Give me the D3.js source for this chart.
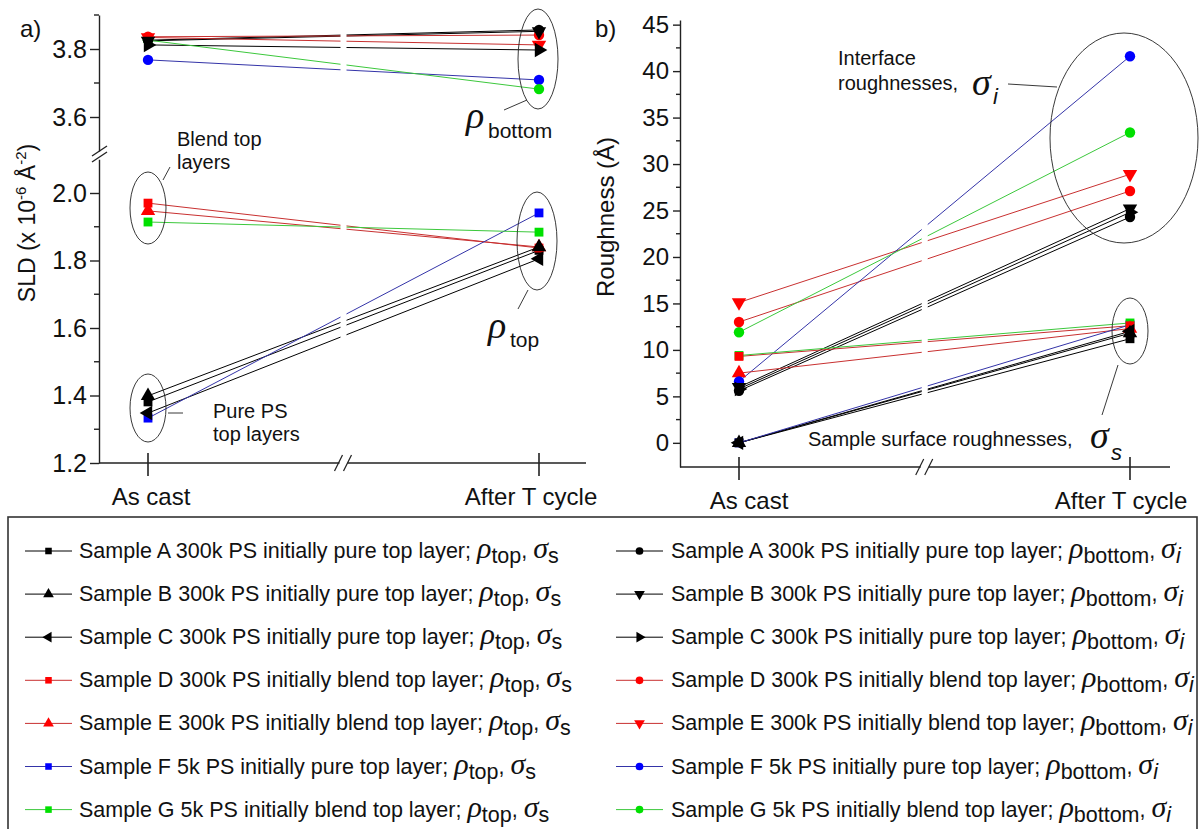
<!DOCTYPE html>
<html>
<head>
<meta charset="utf-8">
<script src="https://cdn.jsdelivr.net/npm/d3@7"></script>
<style>
  body { margin: 0; background: #fff; }
  svg { display: block; }
  text { font-family: Arial, "Liberation Sans", sans-serif; fill: #111; }
  .greek { font-family: "Liberation Serif", "DejaVu Serif", serif; font-style: italic; }
</style>
</head>
<body>
<svg id="chart" width="1200" height="829"></svg>
<script>
// ---- data ----
const stages = ["As cast", "After T cycle"];
const sampleNames = [
  "Sample A 300k PS initially pure top layer",
  "Sample B 300k PS initially pure top layer",
  "Sample C 300k PS initially pure top layer",
  "Sample D 300k PS initially blend top layer",
  "Sample E 300k PS initially blend top layer",
  "Sample F 5k PS initially pure top layer",
  "Sample G 5k PS initially blend top layer"
];
// SLD of top layer (x 10^-6 Å^-2)
const rhoTopAsCast = [1.381, 1.399, 1.348, 1.970, 1.947, 1.333, 1.914];
const rhoTopAfter  = [1.830, 1.840, 1.805, 1.837, 1.840, 1.941, 1.884];
// SLD of bottom layer
const rhoBottomAsCast = [3.826, 3.824, 3.812, 3.836, 3.834, 3.768, 3.826];
const rhoBottomAfter  = [3.856, 3.852, 3.797, 3.841, 3.812, 3.709, 3.682];
// surface roughness (Å)
const sigmaSAsCast = [0, 0, 0, 9.3, 7.5, 0, 9.4];
const sigmaSAfter  = [11.2, 11.8, 12.0, 12.6, 12.3, 12.7, 12.9];
// interface roughness (Å)
const sigmaIAsCast = [5.6, 6.0, 5.8, 13.0, 15.1, 6.6, 11.9];
const sigmaIAfter  = [24.3, 25.2, 24.8, 27.1, 28.9, 41.6, 33.4];
// tick labels
const sldTicksLow = [1.2, 1.4, 1.6, 1.8, 2.0];
const sldMinorLow = [1.3, 1.5, 1.7, 1.9];
const sldTicksHigh = [3.6, 3.8];
const sldMinorHigh = [3.7, 3.9];
const roughTicks = [0, 5, 10, 15, 20, 25, 30, 35, 40, 45];
const roughMinor = [2.5, 7.5, 12.5, 17.5, 22.5, 27.5, 32.5, 37.5, 42.5];

// ---- styles ----
const lineColor   = ["#000", "#000", "#000", "#c83030", "#c83030", "#3434a8", "#3cc83c"];
const markerColor = ["#000", "#000", "#000", "#ff0000", "#ff0000", "#0000ff", "#00e000"];
const topShape    = ["square", "triUp", "triLeft", "square", "triUp", "square", "square"];
const bottomShape = ["circle", "triDown", "triRight", "circle", "triDown", "circle", "circle"];
const markerOrder = [5, 6, 0, 3, 4, 1, 2];

const svg = d3.select("#chart");
svg.append("rect").attr("width", 1200).attr("height", 829).attr("fill", "#fff");

function symbolPath(shape, size) {
  const type = shape === "circle" ? d3.symbolCircle : shape === "square" ? d3.symbolSquare : d3.symbolTriangle;
  return d3.symbol().type(type).size(size)();
}
const shapeRotation = { triUp: 0, triDown: 180, triLeft: -90, triRight: 90, circle: 0, square: 0 };
const shapeSize = { circle: 85, square: 78, triUp: 90, triDown: 90, triLeft: 90, triRight: 90 };

function drawSeries(g, x, y, v0, v1) {
  v0.forEach((_, i) => {
    g.append("line")
      .attr("x1", x(0)).attr("y1", y(v0[i]))
      .attr("x2", x(1)).attr("y2", y(v1[i]))
      .attr("stroke", lineColor[i]).attr("stroke-width", 1);
  });
}
function drawMarkers(g, x, y, v0, v1, shapes) {
  markerOrder.forEach(i => {
    [[0, v0[i]], [1, v1[i]]].forEach(([s, v]) => {
      g.append("path")
        .attr("d", symbolPath(shapes[i], shapeSize[shapes[i]]))
        .attr("transform", `translate(${x(s)},${y(v)}) rotate(${shapeRotation[shapes[i]]})`)
        .attr("fill", markerColor[i]);
    });
  });
}

function styleAxis(sel, fontSize) {
  sel.select(".domain").attr("stroke", "#222").attr("stroke-width", 1.4);
  sel.selectAll(".tick line").attr("stroke", "#222").attr("stroke-width", 1.4);
  sel.selectAll(".tick text").style("font-size", fontSize).attr("fill", "#111")
    .style("font-family", "Arial, 'Liberation Sans', sans-serif");
}
function minorTicks(g, y, x0, vals, len) {
  vals.forEach(v => g.append("line").attr("x1", x0 - len).attr("x2", x0)
    .attr("y1", y(v)).attr("y2", y(v)).attr("stroke", "#222").attr("stroke-width", 1.4));
}

function xAxis(g, x, y0, xStart, xEnd, breakFrac, labelOffsets) {
  const bx = x(0) + (x(1) - x(0)) * breakFrac;
  g.append("line").attr("x1", xStart).attr("x2", bx - 4).attr("y1", y0).attr("y2", y0)
    .attr("stroke", "#222").attr("stroke-width", 1.4);
  g.append("line").attr("x1", bx + 4).attr("x2", xEnd).attr("y1", y0).attr("y2", y0)
    .attr("stroke", "#222").attr("stroke-width", 1.4);
  [-5, 4].forEach(o => g.append("line")
    .attr("x1", bx + o - 4).attr("y1", y0 + 8).attr("x2", bx + o + 4).attr("y2", y0 - 8)
    .attr("stroke", "#222").attr("stroke-width", 1.2));
  stages.forEach((s, i) => {
    g.append("line").attr("x1", x(i)).attr("x2", x(i)).attr("y1", y0 - 10).attr("y2", y0 + 13)
      .attr("stroke", "#222").attr("stroke-width", 1.6);
    g.append("text").attr("x", x(i) + labelOffsets[i]).attr("y", y0 + 42)
      .attr("text-anchor", "middle").style("font-size", "24px").text(s);
  });
  return bx;
}

// ================= panel a =================
const gA = svg.append("g");
const xA = d3.scaleLinear().domain([0, 1]).range([148, 539]);
const yALow = d3.scaleLinear().domain([1.2, 2.1]).range([463, 159.25]);
const yAHigh = d3.scaleLinear().domain([3.5, 3.9]).range([151, 15]);
const axA = 99;

drawSeries(gA, xA, yAHigh, rhoBottomAsCast, rhoBottomAfter);
drawSeries(gA, xA, yALow, rhoTopAsCast, rhoTopAfter);
const bxA = xA(0) + (xA(1) - xA(0)) * 0.5;
gA.append("rect").attr("x", bxA - 3).attr("y", 10).attr("width", 6).attr("height", 440).attr("fill", "#fff");
drawMarkers(gA, xA, yAHigh, rhoBottomAsCast, rhoBottomAfter, bottomShape);
drawMarkers(gA, xA, yALow, rhoTopAsCast, rhoTopAfter, topShape);

const axLow = gA.append("g").attr("transform", `translate(${axA},0)`)
  .call(d3.axisLeft(yALow).tickValues(sldTicksLow).tickFormat(d3.format(".1f")).tickSize(9).tickSizeOuter(0).tickPadding(3));
styleAxis(axLow, "25px");
const axHigh = gA.append("g").attr("transform", `translate(${axA},0)`)
  .call(d3.axisLeft(yAHigh).tickValues(sldTicksHigh).tickFormat(d3.format(".1f")).tickSize(9).tickSizeOuter(0).tickPadding(3));
styleAxis(axHigh, "25px");
minorTicks(gA, yALow, axA, sldMinorLow, 5);
minorTicks(gA, yAHigh, axA, sldMinorHigh, 5);
// y-axis break marks
[0, 6].forEach(o => gA.append("line")
  .attr("x1", axA - 7).attr("y1", 156 + o).attr("x2", axA + 8).attr("y2", 146 + o)
  .attr("stroke", "#222").attr("stroke-width", 1.3));

xAxis(gA, xA, 463, axA, 586, 0.5, [3, -8]);

gA.append("text").attr("x", 20).attr("y", 37).style("font-size", "24px").text("a)");

// y title
const tA = gA.append("text").attr("transform", "translate(35,223) rotate(-90)")
  .attr("text-anchor", "middle").style("font-size", "23px");
tA.append("tspan").text("SLD (x 10");
tA.append("tspan").attr("dy", -9).style("font-size", "15px").text("-6");
tA.append("tspan").attr("dy", 9).text(" Å");
tA.append("tspan").attr("dy", -9).style("font-size", "15px").text("-2");
tA.append("tspan").attr("dy", 9).text(")");

// annotations
const ann = (g, cx, cy, rx, ry) => g.append("ellipse").attr("cx", cx).attr("cy", cy).attr("rx", rx).attr("ry", ry)
  .attr("fill", "none").attr("stroke", "#222").attr("stroke-width", 0.9);
const lead = (g, x1, y1, x2, y2) => g.append("line").attr("x1", x1).attr("y1", y1).attr("x2", x2).attr("y2", y2)
  .attr("stroke", "#222").attr("stroke-width", 0.9);
const note = (g, x, y, s, size) => g.append("text").attr("x", x).attr("y", y).style("font-size", size || "20px").text(s);

ann(gA, xA(0), 208, 18, 36);
lead(gA, 163, 180, 170, 167);
note(gA, 177, 146, "Blend top");
note(gA, 177, 169, "layers");

ann(gA, xA(0), 408, 18, 34);
lead(gA, 168, 413, 183, 413);
note(gA, 213, 418, "Pure PS");
note(gA, 213, 441, "top layers");

ann(gA, xA(1) - 1, 59, 20, 50);
lead(gA, 527, 100, 504, 110);
note(gA, 466, 128, "ρ", "38px").attr("class", "greek");
note(gA, 488, 138, "bottom", "21px");

ann(gA, xA(1) - 2, 241, 20, 49);
lead(gA, 528, 290, 518, 309);
note(gA, 488, 338, "ρ", "38px").attr("class", "greek");
note(gA, 510, 347, "top", "21px");

// ================= panel b =================
const gB = svg.append("g");
const xB = d3.scaleLinear().domain([0, 1]).range([739, 1130]);
const yB = d3.scaleLinear().domain([-2.6, 45.5]).range([467, 20]);
const axB = 680;

drawSeries(gB, xB, yB, sigmaIAsCast, sigmaIAfter);
drawSeries(gB, xB, yB, sigmaSAsCast, sigmaSAfter);
const bxB = xB(0) + (xB(1) - xB(0)) * 0.475;
gB.append("rect").attr("x", bxB - 3).attr("y", 10).attr("width", 6).attr("height", 440).attr("fill", "#fff");
drawMarkers(gB, xB, yB, sigmaSAsCast, sigmaSAfter, topShape);
drawMarkers(gB, xB, yB, sigmaIAsCast, sigmaIAfter, bottomShape);

const axBg = gB.append("g").attr("transform", `translate(${axB},0)`)
  .call(d3.axisLeft(yB).tickValues(roughTicks).tickSize(7).tickSizeOuter(0).tickPadding(4));
styleAxis(axBg, "24px");
minorTicks(gB, yB, axB, roughMinor, 4);

xAxis(gB, xB, 467, axB, 1170, 0.475, [10, -9]);

gB.append("text").attr("x", 595).attr("y", 37).style("font-size", "24px").text("b)");
gB.append("text").attr("transform", "translate(614,217) rotate(-90)")
  .attr("text-anchor", "middle").style("font-size", "24px").text("Roughness (Å)");

note(gB, 838, 65, "Interface");
note(gB, 838, 90, "roughnesses,");
note(gB, 972, 95, "σ", "38px").attr("class", "greek");
note(gB, 993, 104, "i", "22px").style("font-style", "italic");
lead(gB, 1008, 84, 1057, 87);
ann(gB, 1124, 138, 74, 105);

ann(gB, xB(1), 331, 18, 33);
lead(gB, 1118, 365, 1102, 415);
note(gB, 808, 446, "Sample surface roughnesses,");
note(gB, 1090, 448, "σ", "38px").attr("class", "greek");
note(gB, 1111, 460, "s", "22px").style("font-style", "italic");

// ================= legend =================
const legBox = { x: 8, y: 517, w: 1189, h: 330 };
svg.append("clipPath").attr("id", "legclip").append("rect")
  .attr("x", legBox.x).attr("y", legBox.y).attr("width", legBox.w).attr("height", legBox.h);
const gL = svg.append("g").attr("clip-path", "url(#legclip)");
svg.append("rect").attr("x", legBox.x).attr("y", legBox.y).attr("width", legBox.w).attr("height", legBox.h)
  .attr("fill", "none").attr("stroke", "#333").attr("stroke-width", 1.6);

const rowY = i => 551 + i * 43.1;
const cols = [
  { x0: 25, x1: 72, text: 79, shapes: topShape, sub1: "top", sub2: "s", italic2: false },
  { x0: 616, x1: 663, text: 671, shapes: bottomShape, sub1: "bottom", sub2: "i", italic2: true }
];
cols.forEach(c => {
  sampleNames.forEach((name, i) => {
    const y = rowY(i);
    gL.append("line").attr("x1", c.x0).attr("x2", c.x1).attr("y1", y).attr("y2", y)
      .attr("stroke", lineColor[i]).attr("stroke-width", 1);
    gL.append("path").attr("d", symbolPath(c.shapes[i], shapeSize[c.shapes[i]] * 0.55))
      .attr("transform", `translate(${(c.x0 + c.x1) / 2},${y}) rotate(${shapeRotation[c.shapes[i]]})`)
      .attr("fill", markerColor[i]);
    const t = gL.append("text").attr("x", c.text).attr("y", y + 7).style("font-size", "21.5px");
    t.append("tspan").text(name + "; ");
    t.append("tspan").attr("class", "greek").style("font-size", "30px").text("ρ");
    t.append("tspan").attr("dy", 5).text(c.sub1);
    t.append("tspan").attr("dy", -5).text(", ");
    t.append("tspan").attr("class", "greek").style("font-size", "30px").text("σ");
    const s2 = t.append("tspan").attr("dy", 5).text(c.sub2);
    if (c.italic2) s2.style("font-style", "italic");
  });
});
</script>
</body>
</html>
